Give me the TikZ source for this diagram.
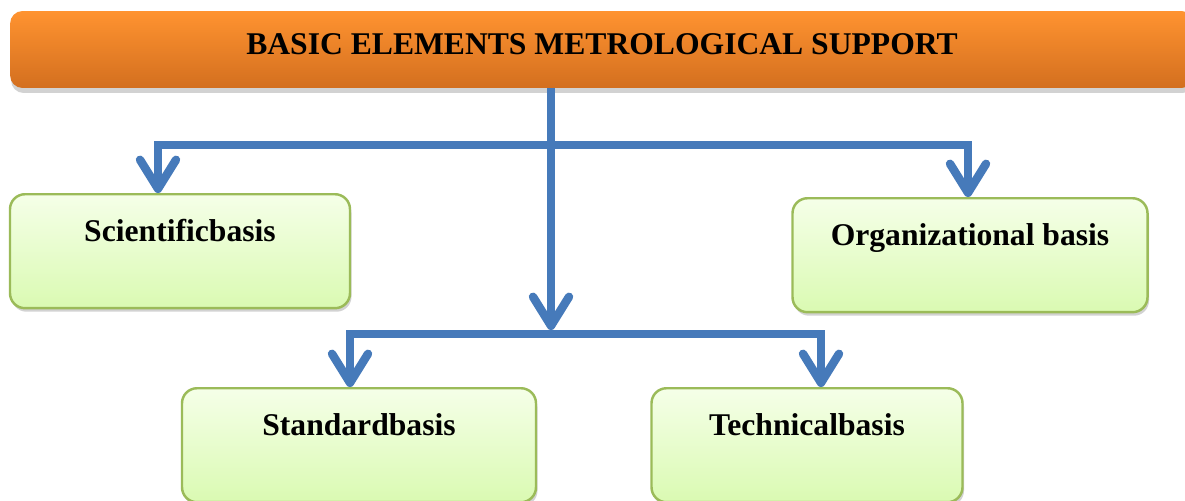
\documentclass[tikz,border=0pt]{standalone}
\usepackage{fontspec}
\setmainfont{Liberation Serif}
\usetikzlibrary{arrows.meta,shadows}

\definecolor{linkblue}{RGB}{70,122,186}
\definecolor{boxgreen}{RGB}{155,187,89}
\definecolor{greentop}{RGB}{245,255,232}
\definecolor{greenbot}{RGB}{218,250,178}
\definecolor{orangetop}{RGB}{255,147,48}
\definecolor{orangebot}{RGB}{211,111,31}

\begin{document}
\begin{tikzpicture}[x=0.02cm,y=-0.02cm,
  every node/.style={font=\fontsize{18}{21}\selectfont\bfseries},
  link/.style={draw=linkblue,line width=4.8pt,>={Straight Barb[length=0.58cm,width=0.72cm,round]}},
  titlebox/.style={rounded corners=0.25cm,top color=orangetop,bottom color=orangebot,
    drop shadow={shadow xshift=0.02cm,shadow yshift=-0.1cm,fill=black!35},
    inner ysep=0pt,text height=0.88cm,text depth=0.66cm,minimum width=23.68cm},
  basisbox/.style={draw=boxgreen,line width=1.4pt,rounded corners=0.3cm,top color=greentop,bottom color=greenbot,
    drop shadow={shadow xshift=0.03cm,shadow yshift=-0.07cm,fill=black!35},
    anchor=north,inner ysep=0pt,text height=0.94cm,text depth=1.34cm}]
\useasboundingbox (0,0) rectangle (1185,500);

% title
\node[titlebox] (title) at (602,49.5) {BASIC ELEMENTS METROLOGICAL SUPPORT};

% bases
\foreach \n/\x/\y/\w/\t in {sci/180/193/340/Scientificbasis,org/970/197/355/Organizational basis,
  std/359/387/354/Standardbasis,tech/807/387/311/Technicalbasis}
	\node[basisbox,minimum width=\w*0.02cm] (\n) at (\x,\y) {\t};

\coordinate (topbar) at (551,145);
\coordinate (lowbar) at (551,334);
\coordinate (scitip) at (158,193);
\coordinate (orgtip) at (968,197);
\coordinate (stdtip) at (350,387);
\coordinate (techtip) at (821,387);

\draw[link,<->] (scitip) |- (topbar) -| (orgtip);
\draw[link,->] (title.south -| topbar) -- ([yshift=0.08cm]lowbar);
\draw[link,<->] (stdtip) |- (lowbar) -| (techtip);

\end{tikzpicture}
\end{document}
